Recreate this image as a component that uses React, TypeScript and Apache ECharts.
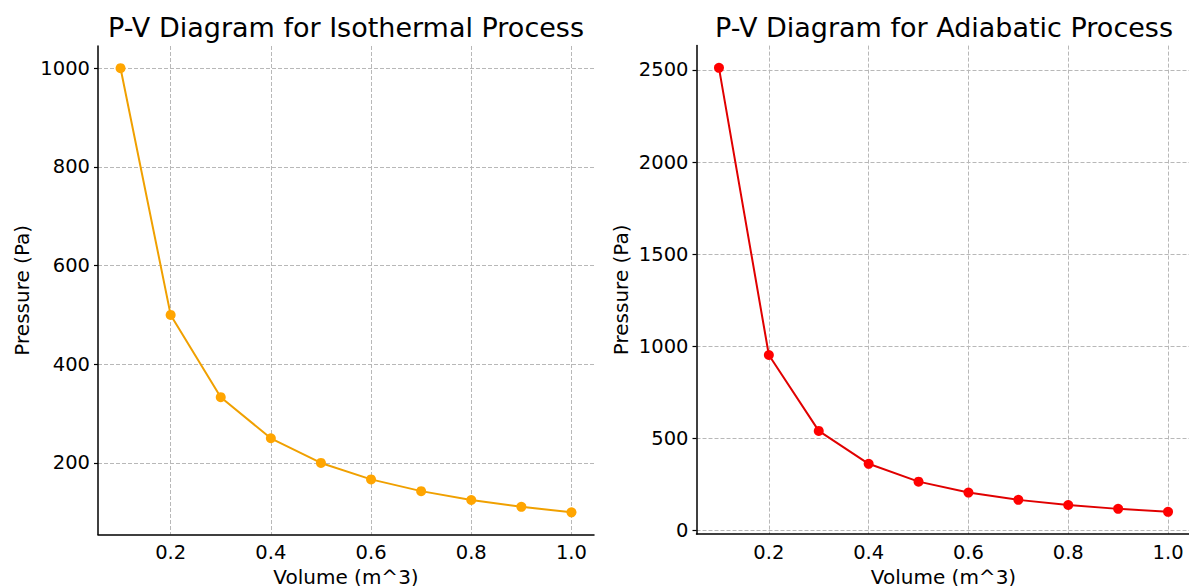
import React, { useEffect, useRef } from "react";
import * as echarts from "echarts";

const volumes = [0.1, 0.2, 0.3, 0.4, 0.5, 0.6, 0.7, 0.8, 0.9, 1.0];
const isothermalPressure = [1000, 500, 333.3, 250, 200, 166.7, 142.9, 125, 111.1, 100];
const adiabaticPressure = [2511.9, 951.8, 539.5, 360.7, 263.9, 204.5, 164.8, 136.7, 115.9, 100];
const xTicks = [0.2, 0.4, 0.6, 0.8, 1.0];
const isoYTicks = [200, 400, 600, 800, 1000];
const adiYTicks = [0, 500, 1000, 1500, 2000, 2500];
const titles = ["P-V Diagram for Isothermal Process", "P-V Diagram for Adiabatic Process"];

const FONT = "DejaVu Sans";

export default function App() {
  const ref = useRef<HTMLDivElement>(null);
  useEffect(() => {
    if (!ref.current) return;
    const chart = echarts.init(ref.current, null, { renderer: "svg" });
    const gridLine = { show: true, lineStyle: { color: "#b8b8b8", width: 1, type: [4, 2] as any } };
    const axisLine = { show: true, onZero: false, lineStyle: { color: "#000", width: 1.5 } };
    const mkX = (gridIndex: number) => ({
      type: "value",
      gridIndex,
      min: 0.055,
      max: 1.045,
      axisLine,
      axisTick: { show: false, customValues: xTicks },
      axisLabel: {
        customValues: xTicks,
        formatter: (v: number) => v.toFixed(1),
        color: "#000",
        fontFamily: FONT,
        fontSize: 19.5,
        margin: 8,
      },
      splitLine: gridLine,
      name: "Volume (m^3)",
      nameLocation: "middle",
      nameGap: 32,
      nameTextStyle: { color: "#000", fontFamily: FONT, fontSize: 20 },
    });
    const mkY = (gridIndex: number, min: number, max: number, ticks: number[]) => ({
      type: "value",
      gridIndex,
      min,
      max,
      axisLine,
      axisTick: { show: true, customValues: ticks, length: 4, lineStyle: { color: "#000", width: 1.2 } },
      axisLabel: {
        customValues: ticks,
        formatter: (v: number) => String(v),
        color: "#000",
        fontFamily: FONT,
        fontSize: 19.5,
        margin: 8,
      },
      splitLine: gridLine,
      name: "Pressure (Pa)",
      nameLocation: "middle",
      nameGap: 66,
      nameTextStyle: { color: "#000", fontFamily: FONT, fontSize: 20 },
    });
    const titleText = (x: number, text: string) => ({
      type: "text",
      x,
      y: 41,
      style: {
        text,
        fill: "#000",
        font: `27px "${FONT}"`,
        textAlign: "center",
        textVerticalAlign: "bottom",
      },
    });
    chart.setOption({
      animation: false,
      backgroundColor: "#fff",
      graphic: [titleText(346, titles[0]), titleText(944, titles[1])],
      grid: [
        { left: 98, top: 46, width: 496, height: 488.5, outerBoundsMode: "none", containLabel: false },
        { left: 696.5, top: 45.6, width: 494, height: 488.4, outerBoundsMode: "none", containLabel: false },
      ],
      xAxis: [mkX(0), mkX(1)],
      yAxis: [mkY(0, 55, 1045, isoYTicks), mkY(1, -20.6, 2632.5, adiYTicks)],
      series: [
        {
          type: "line",
          xAxisIndex: 0,
          yAxisIndex: 0,
          data: volumes.map((v, i) => [v, isothermalPressure[i]]),
          symbol: "circle",
          symbolSize: 10,
          itemStyle: { color: "#FFA500" },
          lineStyle: { color: "#f0a000", width: 2 },
        },
        {
          type: "line",
          xAxisIndex: 1,
          yAxisIndex: 1,
          data: volumes.map((v, i) => [v, adiabaticPressure[i]]),
          symbol: "circle",
          symbolSize: 10,
          itemStyle: { color: "#FF0000" },
          lineStyle: { color: "#e00000", width: 2 },
        },
      ],
    });
    return () => chart.dispose();
  }, []);
  return (
    <div
      ref={ref}
      style={{ position: "fixed", left: 0, top: 0, width: 1189, height: 586, background: "#fff" }}
    />
  );
}
